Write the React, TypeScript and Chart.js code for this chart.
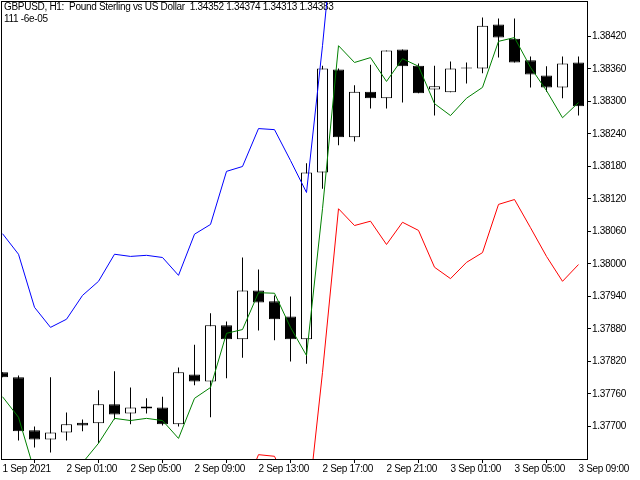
import { useEffect, useRef } from "react";
import { Chart, registerables } from "chart.js";

Chart.register(...registerables);

const titleLine1 = "GBPUSD, H1:  Pound Sterling vs US Dollar  1.34352 1.34374 1.34313 1.34383";
const titleLine2 = "111 -6e-05";

const xTickIndex = [0, 4, 8, 12, 16, 20, 24, 28, 32, 36];
const xTickLabels = [
  "1 Sep 2021", "2 Sep 01:00", "2 Sep 05:00", "2 Sep 09:00", "2 Sep 13:00",
  "2 Sep 17:00", "2 Sep 21:00", "3 Sep 01:00", "3 Sep 05:00", "3 Sep 09:00",
];
const yTicks = [1.377, 1.3776, 1.3782, 1.3788, 1.3794, 1.38, 1.3806, 1.3812, 1.3818, 1.3824, 1.383, 1.3836, 1.3842];

const opens = [1.37800, 1.37791, 1.37693, 1.37676, 1.37689, 1.37707, 1.37706, 1.37741, 1.37724, 1.37737, 1.37735, 1.37704, 1.37796, 1.37783, 1.37887, 1.37861, 1.37951, 1.37931, 1.37903, 1.37861, 1.38169, 1.38359, 1.38234, 1.38318, 1.38306, 1.38396, 1.38366, 1.38322, 1.38317, 1.38361, 1.38361, 1.38442, 1.38416, 1.38376, 1.38348, 1.38326, 1.38372];
const highs = [1.37800, 1.37794, 1.37700, 1.37791, 1.37726, 1.37713, 1.37767, 1.37802, 1.37772, 1.37752, 1.37755, 1.37809, 1.37851, 1.37909, 1.37894, 1.38012, 1.37990, 1.37942, 1.37940, 1.38186, 1.38366, 1.38361, 1.38330, 1.38368, 1.38394, 1.38396, 1.38370, 1.38366, 1.38374, 1.38372, 1.38455, 1.38453, 1.38453, 1.38383, 1.38365, 1.38383, 1.38383];
const lows = [1.37791, 1.37674, 1.37661, 1.37652, 1.37674, 1.37691, 1.37669, 1.37713, 1.37704, 1.37724, 1.37702, 1.37700, 1.37776, 1.37717, 1.37789, 1.37827, 1.37877, 1.37859, 1.37820, 1.37816, 1.38139, 1.38219, 1.38226, 1.38287, 1.38287, 1.38298, 1.38315, 1.38274, 1.38317, 1.38333, 1.38352, 1.38381, 1.38372, 1.38326, 1.38318, 1.38306, 1.38274];
const closes = [1.37791, 1.37691, 1.37676, 1.37689, 1.37704, 1.37702, 1.37741, 1.37722, 1.37735, 1.37733, 1.37704, 1.37800, 1.37783, 1.37887, 1.37861, 1.37951, 1.37929, 1.37898, 1.37861, 1.38169, 1.38361, 1.38234, 1.38318, 1.38306, 1.38394, 1.38365, 1.38315, 1.38328, 1.38361, 1.38361, 1.38440, 1.38418, 1.38372, 1.38350, 1.38326, 1.38370, 1.38291];

const greenLine = [1.37755, 1.37717, 1.37617, 1.37580, 1.37595, 1.37633, 1.37669, 1.37715, 1.37711, 1.37715, 1.37711, 1.37678, 1.37752, 1.37772, 1.37872, 1.37879, 1.37947, 1.37946, 1.37883, 1.37831, 1.38102, 1.38403, 1.38372, 1.38381, 1.38337, 1.38379, 1.38365, 1.38296, 1.38274, 1.38306, 1.38326, 1.38411, 1.38418, 1.38363, 1.38320, 1.38270, 1.38298];
const blueLine = [1.38056, 1.38018, 1.37920, 1.37883, 1.37898, 1.37942, 1.37968, 1.38018, 1.38014, 1.38016, 1.38012, 1.37979, 1.38055, 1.38073, 1.38171, 1.38180, 1.38250, 1.38248, 1.38191, 1.38132, 1.38403, 1.38706, 1.38675, 1.38684, 1.38640, 1.38682, 1.38667, 1.38599, 1.38577, 1.38608, 1.38629, 1.38714, 1.38721, 1.38666, 1.38623, 1.38573, 1.38601];
const redLine = [1.37453, 1.37414, 1.37314, 1.37277, 1.37292, 1.37335, 1.37366, 1.37412, 1.37408, 1.37412, 1.37408, 1.37375, 1.37449, 1.37469, 1.37569, 1.37576, 1.37648, 1.37645, 1.37580, 1.37528, 1.37800, 1.38102, 1.38071, 1.38079, 1.38036, 1.38077, 1.38062, 1.37994, 1.37973, 1.38003, 1.38021, 1.38110, 1.38119, 1.38067, 1.38014, 1.37968, 1.37999];

const FONT = "'Liberation Sans', Arial, sans-serif";
const FONT_SIZE = 10;
const LETTER_SPACING = "-0.3px";

export default function App() {
  const ref = useRef<HTMLCanvasElement | null>(null);

  useEffect(() => {
    const canvas = ref.current;
    if (!canvas) return;

    const idx = opens.map((_, i) => i);

    const spacingPlugin = {
      id: "mtSpacing",
      beforeDraw(chart: any) {
        (chart.ctx as any).letterSpacing = LETTER_SPACING;
      },
    };

    const titlePlugin = {
      id: "mtTitle",
      beforeDatasetsDraw(chart: any) {
        const ctx = chart.ctx;
        ctx.save();
        (ctx as any).letterSpacing = LETTER_SPACING;
        ctx.font = `${FONT_SIZE}px ${FONT}`;
        ctx.fillStyle = "#000";
        ctx.textBaseline = "top";
        ctx.textAlign = "left";
        ctx.fillText(titleLine1, 4, 2);
        ctx.fillText(titleLine2, 4, 14);
        ctx.restore();
      },
    };

    const framePlugin = {
      id: "mtFrame",
      afterDraw(chart: any) {
        const { left, top, right, bottom } = chart.chartArea;
        const ctx = chart.ctx;
        ctx.save();
        ctx.strokeStyle = "#000";
        ctx.lineWidth = 1;
        ctx.strokeRect(left + 0.5, top + 0.5, right - left, bottom - top);
        ctx.restore();
      },
    };

    const lineDs = (data: number[], color: string) => ({
      type: "line" as const,
      data: data.map((v, i) => ({ x: i, y: v })),
      borderColor: color,
      borderWidth: 1,
      pointRadius: 0,
      tension: 0,
      fill: false,
      clip: 0,
      order: 0,
    });

    const tickFont = { family: FONT, size: FONT_SIZE, lineHeight: 1 };

    const chart = new Chart(canvas, {
      type: "bar",
      data: {
        datasets: [
          lineDs(blueLine, "#0000ff"),
          lineDs(redLine, "#ff0000"),
          lineDs(greenLine, "#008000"),
          {
            type: "bar",
            data: idx.map((i) => ({ x: i, y: [opens[i], closes[i]] })),
            backgroundColor: idx.map((i) => (closes[i] >= opens[i] ? "#ffffff" : "#000000")),
            borderColor: "#000000",
            borderWidth: 1,
            borderSkipped: false,
            barThickness: 11,
            grouped: false,
            inflateAmount: 0,
            minBarLength: 1,
            clip: 0,
            order: 1,
          } as any,
          {
            type: "bar",
            data: idx.map((i) => ({ x: i, y: [lows[i], highs[i]] })),
            backgroundColor: "#000000",
            borderWidth: 0,
            barThickness: 1,
            grouped: false,
            inflateAmount: 0,
            clip: 0,
            order: 2,
          } as any,
        ],
      },
      options: {
        animation: false,
        responsive: false,
        devicePixelRatio: 1,
        events: [],
        layout: { padding: { left: 1, top: 1, right: 0, bottom: 0 } },
        plugins: { legend: { display: false }, tooltip: { enabled: false } },
        scales: {
          x: {
            type: "linear",
            position: "bottom",
            min: -0.09375,
            max: 36.53125,
            offset: false,
            grid: { display: true, drawOnChartArea: false, drawTicks: true, tickLength: 4, color: "#000", lineWidth: 1 },
            border: { display: false },
            ticks: {
              autoSkip: false,
              maxRotation: 0,
              minRotation: 0,
              align: "start",
              padding: 1,
              color: "#000",
              font: tickFont,
              callback: (_v: any, i: number) => xTickLabels[i],
            },
            afterBuildTicks: (s: any) => {
              s.ticks = xTickIndex.map((v) => ({ value: v }));
            },
            afterFit: (s: any) => {
              s.height = 21;
              s.paddingLeft = 0;
              s.paddingRight = 0;
            },
          },
          y: {
            type: "linear",
            position: "right",
            min: 1.3764,
            max: 1.384855,
            grid: { display: true, drawOnChartArea: false, drawTicks: true, tickLength: 4, color: "#000", lineWidth: 1 },
            border: { display: false },
            ticks: {
              padding: 1,
              color: "#000",
              font: tickFont,
              callback: (v: any) => Number(v).toFixed(5),
            },
            afterBuildTicks: (s: any) => {
              s.ticks = yTicks.map((v) => ({ value: v }));
            },
            afterFit: (s: any) => {
              s.width = 53;
              s.paddingTop = 0;
              s.paddingBottom = 0;
            },
          },
        },
      } as any,
      plugins: [spacingPlugin, titlePlugin, framePlugin],
    });

    return () => chart.destroy();
  }, []);

  return (
    <canvas
      ref={ref}
      width={640}
      height={480}
      style={{ position: "fixed", left: 0, top: 0, width: 640, height: 480, display: "block" }}
    />
  );
}
